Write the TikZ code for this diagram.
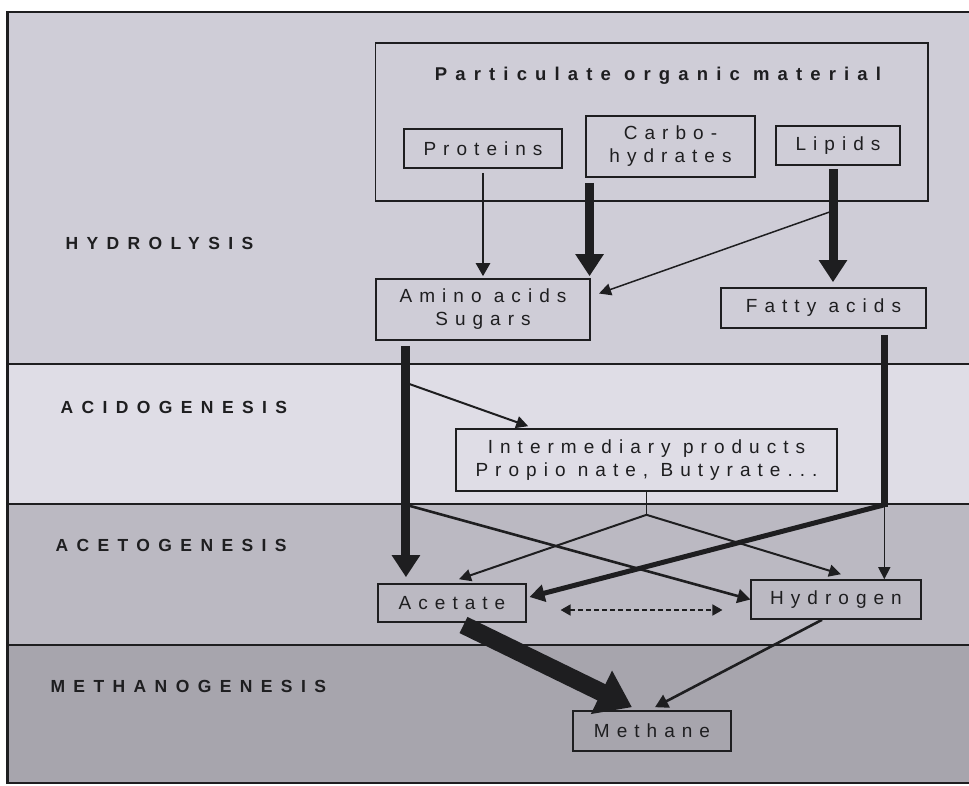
\documentclass[tikz,border=0pt]{standalone}
\usepackage{fontspec}
\setmainfont{Liberation Sans}
\newfontfamily\boxfont[LetterSpace=37]{Liberation Sans}
\newfontfamily\titlefont[LetterSpace=44]{Liberation Sans}
\newfontfamily\stagefont[LetterSpace=48]{Liberation Sans}
\usetikzlibrary{arrows.meta,calc}
\definecolor{hydrocol}{RGB}{207,205,215}
\definecolor{acidocol}{RGB}{223,221,230}
\definecolor{acetocol}{RGB}{187,185,194}
\definecolor{methcol}{RGB}{167,165,173}
\definecolor{inkcol}{RGB}{30,30,32}
\begin{document}
\begin{tikzpicture}[x=1pt,y=-1pt,
    boxed/.style={draw=inkcol,line width=1.6pt,inner sep=0pt,align=center,text=inkcol,font=\boxfont\fontsize{19}{23}\selectfont},
    stage/.style={anchor=west,text=inkcol,font=\stagefont\bfseries\fontsize{17.5}{20}\selectfont},
    thinflow/.style={draw=inkcol,line width=1.5pt,-{Triangle[length=12pt,width=12pt]}},
    midflow/.style={draw=inkcol,line width=2.6pt,-{Triangle[length=13pt,width=14pt]}},
    fatflow/.style={draw=inkcol,line width=9pt,-{Triangle[length=22pt,width=27pt]}},
    hugeflow/.style={draw=inkcol,line width=18pt,-{Triangle[length=34pt,width=46pt]}},
    dashflow/.style={draw=inkcol,line width=1.6pt,dash pattern=on 5pt off 3pt,{Triangle[length=10pt,width=11pt]}-{Triangle[length=10pt,width=11pt]}}]
    \useasboundingbox (0,0) rectangle (969,785);
    \fill[white] (0,0) rectangle (969,785);
    \fill[hydrocol] (7,12) rectangle (969,364);
    \fill[acidocol] (7,364) rectangle (969,504);
    \fill[acetocol] (7,504) rectangle (969,645);
    \fill[methcol] (7,645) rectangle (969,783);
    \draw[inkcol,line width=1.5pt] (969,12) -- (7,12) (7,783) -- (969,783);
    \draw[inkcol,line width=3pt] (7,11) -- (7,784);
    \draw[inkcol,line width=1.3pt] (7,364) -- (969,364) (7,504) -- (969,504) (7,645) -- (969,645);

    \node[stage] (hydrolysis) at (62,243) {HYDROLYSIS};
    \node[stage] (acidogenesis) at (57,407) {ACIDOGENESIS};
    \node[stage] (acetogenesis) at (52,545) {ACETOGENESIS};
    \node[stage] (methanogenesis) at (47,686) {METHANOGENESIS};

    \node[boxed,minimum width=552.5pt,minimum height=158pt] (pom) at (651.75,122) {};
    \node[text=inkcol,font=\titlefont\bfseries\fontsize{18.5}{22}\selectfont] (pomtitle) at (658,76) {Particulate organic material};
    \node[boxed,minimum width=158.5pt,minimum height=39pt] (proteins) at (483,148.5) {Proteins};
    \node[boxed,minimum width=169pt,minimum height=61pt] (carbo) at (670.5,146.5) {Carbo-\\hydrates};
    \node[boxed,minimum width=124.5pt,minimum height=39pt] (lipids) at (838,145.5) {Lipids};
    \node[boxed,minimum width=214.5pt,minimum height=61pt] (amino) at (483,309.5) {Amino acids\\Sugars};
    \node[boxed,minimum width=205pt,minimum height=40pt] (fatty) at (823.5,308) {Fatty acids};
    \node[boxed,minimum width=381pt,minimum height=62pt] (inter) at (646.5,460) {Intermediary products\\Propio nate, Butyrate...};
    \node[boxed,minimum width=147.5pt,minimum height=38pt] (acetate) at (452,603) {Acetate};
    \node[boxed,minimum width=169.5pt,minimum height=39pt] (hydrogen) at (836,599.5) {Hydrogen};
    \node[boxed,minimum width=158pt,minimum height=40pt] (methane) at (652,731) {Methane};

    \coordinate (lipsplit) at ($(lipids.south)+(-5,45)$);
    \coordinate (aminoin) at ($(amino.east)+(8,-16)$);
    \coordinate (amtop) at ($(amino.south west)+(31,0)$);
    \coordinate (amsplitA) at ($(amtop)+(0,42)$);
    \coordinate (amsplitB) at ($(amtop)+(0,164)$);
    \coordinate (fattop) at ($(fatty.south east)+(-42.5,0)$);
    \coordinate (fasplit) at (fattop |- amsplitB);
    \coordinate (insplit) at ($(inter.south)+(0,23)$);

    \draw[midflow,shorten <=4pt,shorten >=2pt] (proteins) -- (amino);
    \draw[fatflow,shorten <=5pt,shorten >=2pt] ([xshift=-1.5pt]amino.north east |- carbo.south) -- ([xshift=-1.5pt]amino.north east);
    \draw[fatflow,shorten <=3pt,shorten >=5pt] ([xshift=-5pt]lipids.south) -- ([xshift=-5pt]lipids.south |- fatty.north);
    \draw[thinflow] (lipsplit) -- (aminoin);
    \draw[fatflow,shorten <=5pt,shorten >=6pt] (amtop) -- (amtop |- acetate.north);
    \draw[thinflow,line width=2pt] (amsplitA) -- ($(inter.north west)+(73,-2)$);
    \draw[midflow] (amsplitB) -- (hydrogen.west);
    \draw[draw=inkcol,line width=7pt,shorten <=6pt,shorten >=-2pt] (fattop) -- (fasplit);
    \draw[draw=inkcol,line width=5pt,-{Triangle[length=15pt,width=17pt]}] (fasplit) -- ($(acetate.east)+(3,-6)$);
    \draw[thinflow] (fasplit) -- (fasplit |- hydrogen.north);
    \draw[draw=inkcol,line width=1.8pt] (inter) -- (insplit);
    \draw[thinflow,line width=2pt] (insplit) -- ($(acetate.north)+(7,-4)$);
    \draw[thinflow,line width=2pt] (insplit) -- ($(hydrogen.north)+(5,-5)$);
    \draw[dashflow] ($(acetate.east)+(34,7)$) -- ($(hydrogen.west |- acetate.east)+(-28,7)$);
    \draw[hugeflow,shorten <=5pt] ($(acetate.south)+(7,0)$) -- ($(methane.north)+(-20,-3)$);
    \draw[midflow] ($(hydrogen.south)+(-14,0)$) -- ($(methane.north)+(3,-3)$);
\end{tikzpicture}
\end{document}
